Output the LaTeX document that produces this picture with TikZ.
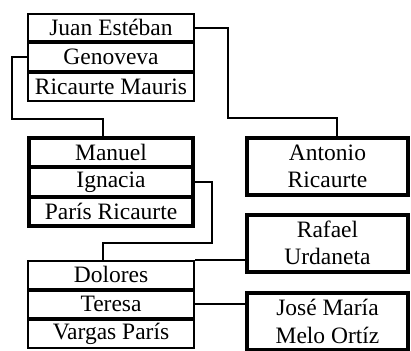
\documentclass[tikz,border=0pt]{standalone}
\usepackage{fontspec}
\setmainfont{Liberation Serif}
\usetikzlibrary{positioning}

\begin{document}
\begin{tikzpicture}[x=1pt,y=-1pt,
    thinbox/.style={draw, line width=2pt, minimum width=166pt, minimum height=27.5pt,
      inner sep=0pt, align=center, font=\fontsize{23.5}{27.5}\selectfont},
    thickbox/.style={draw, line width=4pt, minimum width=164pt, minimum height=29.3pt,
      inner sep=0pt, align=center, font=\fontsize{23.5}{27.5}\selectfont},
    namebox/.style={thickbox, minimum width=161pt, minimum height=57pt},
    link/.style={line width=2pt}]
    \useasboundingbox (0,0) rectangle (411,350);
    \clip (0,0) rectangle (411,350);
    \node[thinbox] (juan) at (111,27.75) {Juan Estéban};
    \node[thinbox, below=0pt of juan] (genoveva) {Genoveva};
    \node[thinbox, below=0pt of genoveva] (mauris) {Ricaurte Mauris};
    \node[thickbox] (manuel) at (111,152.65) {Manuel};
    \node[thickbox, below=-4pt of manuel] (ignacia) {Ignacia};
    \node[thickbox, below=-4pt of ignacia] (paris) {París Ricaurte};
    \node[thinbox] (dolores) at (111,274.75) {Dolores};
    \node[thinbox, below=0pt of dolores] (teresa) {Teresa};
    \node[thinbox, below=0pt of teresa] (vargas) {Vargas París};
    \node[namebox] (antonio) at (327.5,166.5) {Antonio\\Ricaurte};
    \node[namebox] (rafael) at (327.5,243) {Rafael\\Urdaneta};
    \node[namebox] (jose) at (327.5,321.5) {José María\\Melo Ortíz};
    \draw[link] (juan.east) -| (228,118) -| ([xshift=9pt]antonio.north);
    \draw[link] (genoveva.west) -| (12,119) -| ([xshift=-8pt]manuel.north);
    \draw[link] (ignacia.east) -| (212,243) -| ([xshift=-8pt]dolores.north);
    \draw[link] (dolores.north east) -- (dolores.north east -| rafael.west);
    \draw[link] (teresa.east) -- (teresa.east -| jose.west);
  \end{tikzpicture}
\end{document}
